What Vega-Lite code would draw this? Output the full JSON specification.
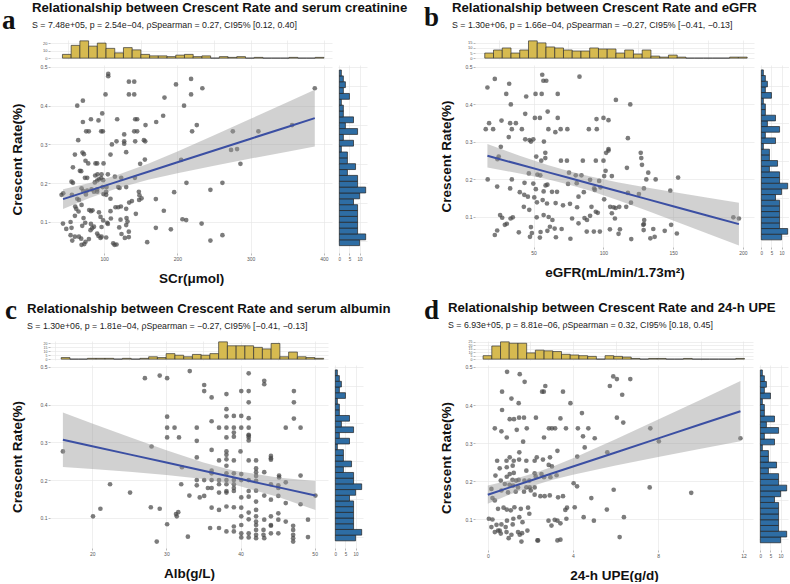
{
"$schema": "https://vega.github.io/schema/vega-lite/v6.json",
"background": "white",
"padding": {"left": 2, "top": 1, "right": 0, "bottom": 0},
"config": {
  "font": "Liberation Sans",
  "view": {"stroke": null},
  "axis": {"domain": false, "gridColor": "#E4E4E4", "gridWidth": 0.6, "tickColor": "#8a8a8a", "tickSize": 2, "tickWidth": 0.6, "labelFontSize": 5, "labelColor": "#555555", "labelPadding": 1, "labelFlush": false, "labelOverlap": false, "titleFont": "Liberation Sans", "titleFontWeight": "bold", "titleFontSize": 13.5, "titleColor": "#111111"}
},
"datasets": {
  "yhist": [
    {"y0":0.039,"y1":0.0541,"n":10},{"y0":0.0541,"y1":0.0692,"n":13},{"y0":0.0692,"y1":0.0843,"n":9},{"y0":0.0843,"y1":0.0994,"n":9},{"y0":0.0994,"y1":0.1145,"n":9},{"y0":0.1145,"y1":0.1296,"n":9},{"y0":0.1296,"y1":0.1447,"n":9},{"y0":0.1447,"y1":0.1598,"n":7},{"y0":0.1598,"y1":0.1749,"n":10},{"y0":0.1749,"y1":0.19,"n":13},{"y0":0.19,"y1":0.2051,"n":9},{"y0":0.2051,"y1":0.2202,"n":9},{"y0":0.2202,"y1":0.2353,"n":4},{"y0":0.2353,"y1":0.2504,"n":8},{"y0":0.2504,"y1":0.2655,"n":4},{"y0":0.2655,"y1":0.2806,"n":4},{"y0":0.2806,"y1":0.2957,"n":1},{"y0":0.2957,"y1":0.3108,"n":7},{"y0":0.3108,"y1":0.3259,"n":2},{"y0":0.3259,"y1":0.341,"n":9},{"y0":0.341,"y1":0.3561,"n":3},{"y0":0.3561,"y1":0.3712,"n":7},{"y0":0.3712,"y1":0.3863,"n":2},{"y0":0.3863,"y1":0.4014,"n":2},{"y0":0.4014,"y1":0.4165,"n":1},{"y0":0.4165,"y1":0.4316,"n":5},{"y0":0.4316,"y1":0.4467,"n":2},{"y0":0.4467,"y1":0.4618,"n":3},{"y0":0.4618,"y1":0.4769,"n":2},{"y0":0.4769,"y1":0.492,"n":1}
  ],
  "hist_a": [
    {"x0":43,"x1":54.9,"n":5},{"x0":54.9,"x1":66.8,"n":17},{"x0":66.8,"x1":78.7,"n":23},{"x0":78.7,"x1":90.6,"n":16},{"x0":90.6,"x1":102.5,"n":20},{"x0":102.5,"x1":114.4,"n":13},{"x0":114.4,"x1":126.3,"n":7},{"x0":126.3,"x1":138.2,"n":14},{"x0":138.2,"x1":150.1,"n":11},{"x0":150.1,"x1":162,"n":5},{"x0":162,"x1":173.9,"n":3},{"x0":173.9,"x1":185.8,"n":3},{"x0":185.8,"x1":197.7,"n":2},{"x0":197.7,"x1":209.6,"n":4},{"x0":209.6,"x1":221.5,"n":5},{"x0":221.5,"x1":233.4,"n":2},{"x0":233.4,"x1":245.3,"n":3},{"x0":245.3,"x1":257.2,"n":0},{"x0":257.2,"x1":269.1,"n":2},{"x0":269.1,"x1":281,"n":1},{"x0":281,"x1":292.9,"n":2},{"x0":292.9,"x1":304.8,"n":0},{"x0":304.8,"x1":316.7,"n":1},{"x0":316.7,"x1":328.6,"n":0},{"x0":328.6,"x1":340.5,"n":0},{"x0":340.5,"x1":352.4,"n":0},{"x0":352.4,"x1":364.3,"n":1},{"x0":364.3,"x1":376.2,"n":0},{"x0":376.2,"x1":388.1,"n":0},{"x0":388.1,"x1":400,"n":1}
  ],
  "hist_b": [
    {"x0":15,"x1":21.27,"n":5},{"x0":21.27,"x1":27.54,"n":8},{"x0":27.54,"x1":33.81,"n":10},{"x0":33.81,"x1":40.08,"n":5},{"x0":40.08,"x1":46.35,"n":8},{"x0":46.35,"x1":52.62,"n":17},{"x0":52.62,"x1":58.89,"n":15},{"x0":58.89,"x1":65.16,"n":11},{"x0":65.16,"x1":71.43,"n":10},{"x0":71.43,"x1":77.7,"n":8},{"x0":77.7,"x1":83.97,"n":7},{"x0":83.97,"x1":90.24,"n":7},{"x0":90.24,"x1":96.51,"n":10},{"x0":96.51,"x1":102.78,"n":9},{"x0":102.78,"x1":109.05,"n":9},{"x0":109.05,"x1":115.32,"n":5},{"x0":115.32,"x1":121.59,"n":8},{"x0":121.59,"x1":127.86,"n":4},{"x0":127.86,"x1":134.13,"n":8},{"x0":134.13,"x1":140.4,"n":2},{"x0":140.4,"x1":146.67,"n":1},{"x0":146.67,"x1":152.94,"n":3},{"x0":152.94,"x1":159.21,"n":1},{"x0":159.21,"x1":165.48,"n":0},{"x0":165.48,"x1":171.75,"n":0},{"x0":171.75,"x1":178.02,"n":0},{"x0":178.02,"x1":184.29,"n":0},{"x0":184.29,"x1":190.56,"n":0},{"x0":190.56,"x1":196.83,"n":1},{"x0":196.83,"x1":203.1,"n":1}
  ],
  "hist_c": [
    {"x0":15.81,"x1":16.99,"n":2},{"x0":16.99,"x1":18.17,"n":0},{"x0":18.17,"x1":19.35,"n":0},{"x0":19.35,"x1":20.53,"n":1},{"x0":20.53,"x1":21.71,"n":1},{"x0":21.71,"x1":22.89,"n":1},{"x0":22.89,"x1":24.07,"n":0},{"x0":24.07,"x1":25.25,"n":1},{"x0":25.25,"x1":26.43,"n":0},{"x0":26.43,"x1":27.61,"n":1},{"x0":27.61,"x1":28.79,"n":3},{"x0":28.79,"x1":29.97,"n":2},{"x0":29.97,"x1":31.15,"n":7},{"x0":31.15,"x1":32.33,"n":5},{"x0":32.33,"x1":33.51,"n":3},{"x0":33.51,"x1":34.69,"n":6},{"x0":34.69,"x1":35.87,"n":5},{"x0":35.87,"x1":37.05,"n":7},{"x0":37.05,"x1":38.23,"n":22},{"x0":38.23,"x1":39.41,"n":17},{"x0":39.41,"x1":40.59,"n":17},{"x0":40.59,"x1":41.77,"n":17},{"x0":41.77,"x1":42.95,"n":15},{"x0":42.95,"x1":44.13,"n":13},{"x0":44.13,"x1":45.31,"n":20},{"x0":45.31,"x1":46.49,"n":3},{"x0":46.49,"x1":47.67,"n":9},{"x0":47.67,"x1":48.85,"n":3},{"x0":48.85,"x1":50.03,"n":2},{"x0":50.03,"x1":51.21,"n":1}
  ],
  "hist_d": [
    {"x0":-0.22,"x1":0.189,"n":5},{"x0":0.189,"x1":0.598,"n":19},{"x0":0.598,"x1":1.007,"n":25},{"x0":1.007,"x1":1.416,"n":23},{"x0":1.416,"x1":1.825,"n":23},{"x0":1.825,"x1":2.234,"n":9},{"x0":2.234,"x1":2.643,"n":13},{"x0":2.643,"x1":3.052,"n":12},{"x0":3.052,"x1":3.461,"n":11},{"x0":3.461,"x1":3.87,"n":7},{"x0":3.87,"x1":4.279,"n":6},{"x0":4.279,"x1":4.688,"n":5},{"x0":4.688,"x1":5.097,"n":4},{"x0":5.097,"x1":5.506,"n":0},{"x0":5.506,"x1":5.915,"n":5},{"x0":5.915,"x1":6.324,"n":4},{"x0":6.324,"x1":6.733,"n":3},{"x0":6.733,"x1":7.142,"n":1},{"x0":7.142,"x1":7.551,"n":0},{"x0":7.551,"x1":7.96,"n":1},{"x0":7.96,"x1":8.369,"n":1},{"x0":8.369,"x1":8.778,"n":0},{"x0":8.778,"x1":9.187,"n":0},{"x0":9.187,"x1":9.596,"n":1},{"x0":9.596,"x1":10.005,"n":0},{"x0":10.005,"x1":10.414,"n":0},{"x0":10.414,"x1":10.823,"n":0},{"x0":10.823,"x1":11.232,"n":0},{"x0":11.232,"x1":11.641,"n":0},{"x0":11.641,"x1":12.05,"n":1}
  ],
  "fit_a": [
    {"x":43.8,"fit":0.159,"lo":0.1338,"hi":0.1842},{"x":80,"fit":0.181,"lo":0.1617,"hi":0.2003},{"x":115,"fit":0.2023,"lo":0.1853,"hi":0.2193},{"x":160,"fit":0.2297,"lo":0.209,"hi":0.2504},{"x":200,"fit":0.254,"lo":0.226,"hi":0.282},{"x":250,"fit":0.2844,"lo":0.2452,"hi":0.3236},{"x":300,"fit":0.3148,"lo":0.2635,"hi":0.3661},{"x":350,"fit":0.3452,"lo":0.2814,"hi":0.409},{"x":387.5,"fit":0.368,"lo":0.2947,"hi":0.4413}
  ],
  "fit_b": [
    {"x":16.9,"fit":0.263,"lo":0.2317,"hi":0.2943},{"x":40,"fit":0.2397,"lo":0.216,"hi":0.2634},{"x":60,"fit":0.2195,"lo":0.2005,"hi":0.2385},{"x":75,"fit":0.2044,"lo":0.1866,"hi":0.2222},{"x":90,"fit":0.1893,"lo":0.1703,"hi":0.2083},{"x":110,"fit":0.1691,"lo":0.1454,"hi":0.1928},{"x":130,"fit":0.1489,"lo":0.1186,"hi":0.1792},{"x":150,"fit":0.1287,"lo":0.0909,"hi":0.1665},{"x":175,"fit":0.1035,"lo":0.0556,"hi":0.1514},{"x":197.2,"fit":0.081,"lo":0.0238,"hi":0.1382}
  ],
  "fit_c": [
    {"x":16.04,"fit":0.307,"lo":0.235,"hi":0.379},{"x":20,"fit":0.2898,"lo":0.2294,"hi":0.3502},{"x":25,"fit":0.2681,"lo":0.2219,"hi":0.3143},{"x":30,"fit":0.2464,"lo":0.2136,"hi":0.2792},{"x":35,"fit":0.2247,"lo":0.2028,"hi":0.2466},{"x":39,"fit":0.2073,"lo":0.1891,"hi":0.2255},{"x":45,"fit":0.1813,"lo":0.1556,"hi":0.207},{"x":50.1,"fit":0.1592,"lo":0.1209,"hi":0.1975}
  ],
  "fit_d": [
    {"x":0,"fit":0.165,"lo":0.1412,"hi":0.1888},{"x":1,"fit":0.1835,"lo":0.1648,"hi":0.2022},{"x":2.2,"fit":0.2056,"lo":0.1896,"hi":0.2216},{"x":3,"fit":0.2204,"lo":0.2032,"hi":0.2376},{"x":4,"fit":0.2388,"lo":0.2173,"hi":0.2603},{"x":6,"fit":0.2758,"lo":0.2414,"hi":0.3102},{"x":8,"fit":0.3127,"lo":0.2636,"hi":0.3618},{"x":10,"fit":0.3496,"lo":0.2852,"hi":0.414},{"x":11.86,"fit":0.3839,"lo":0.305,"hi":0.4628}
  ],
  "pts_a": [
    {"x":105.5,"y":0.482},{"x":105.5,"y":0.476},{"x":133.7,"y":0.462},{"x":141,"y":0.462},{"x":198,"y":0.455},{"x":218.6,"y":0.469},{"x":234,"y":0.445},{"x":387.5,"y":0.445},
    {"x":70.9,"y":0.413},{"x":63.2,"y":0.4},{"x":101.8,"y":0.429},{"x":133.7,"y":0.429},{"x":141,"y":0.429},{"x":182.3,"y":0.421},{"x":218.6,"y":0.429},{"x":209,"y":0.4},
    {"x":97.3,"y":0.38},{"x":180.5,"y":0.374},{"x":81.9,"y":0.365},{"x":70.9,"y":0.358},{"x":92.2,"y":0.362},{"x":117.7,"y":0.365},{"x":142.3,"y":0.365},{"x":145,"y":0.365},{"x":171,"y":0.358},{"x":156.4,"y":0.35},{"x":226.4,"y":0.35},
    {"x":75.4,"y":0.334},{"x":79,"y":0.334},{"x":95.9,"y":0.334},{"x":98.2,"y":0.334},{"x":141,"y":0.334},{"x":145,"y":0.334},{"x":220,"y":0.334},{"x":275.6,"y":0.334},{"x":310.5,"y":0.334},{"x":356.5,"y":0.35},
    {"x":127.3,"y":0.326},{"x":64.5,"y":0.311},{"x":116.8,"y":0.308},{"x":110.5,"y":0.3},{"x":127.3,"y":0.308},{"x":127.3,"y":0.302},{"x":142.3,"y":0.308},{"x":154.2,"y":0.311},{"x":156,"y":0.308},{"x":281.4,"y":0.288},
    {"x":60,"y":0.274},{"x":70.4,"y":0.279},{"x":72.3,"y":0.275},{"x":108.6,"y":0.274},{"x":130,"y":0.28},{"x":74.5,"y":0.258},{"x":78.2,"y":0.251},{"x":88.1,"y":0.251},{"x":90.4,"y":0.251},{"x":99.1,"y":0.251},{"x":57.3,"y":0.241},{"x":66.8,"y":0.232},{"x":68.6,"y":0.231},{"x":155.5,"y":0.261},{"x":149.1,"y":0.25},{"x":205,"y":0.26},{"x":273.2,"y":0.286},{"x":286,"y":0.25},
    {"x":73.7,"y":0.214},{"x":76.8,"y":0.214},{"x":87.7,"y":0.22},{"x":90.9,"y":0.223},{"x":96.4,"y":0.223},{"x":105,"y":0.223},{"x":55.4,"y":0.204},{"x":57.3,"y":0.201},{"x":87.2,"y":0.202},{"x":90.4,"y":0.207},{"x":92.8,"y":0.21},{"x":95.9,"y":0.213},{"x":98.6,"y":0.208},{"x":114.6,"y":0.217},{"x":123.2,"y":0.214},{"x":141.9,"y":0.214},{"x":212.3,"y":0.201},{"x":261.4,"y":0.201},
    {"x":41.8,"y":0.17},{"x":44.1,"y":0.174},{"x":55.9,"y":0.17},{"x":69.1,"y":0.187},{"x":71.3,"y":0.18},{"x":75,"y":0.171},{"x":76.8,"y":0.181},{"x":82.7,"y":0.184},{"x":86,"y":0.178},{"x":90.4,"y":0.184},{"x":90.4,"y":0.178},{"x":97.8,"y":0.19},{"x":103.2,"y":0.19},{"x":102.7,"y":0.178},{"x":99,"y":0.172},{"x":102.7,"y":0.17},{"x":119.1,"y":0.19},{"x":120.9,"y":0.188},{"x":130,"y":0.19},{"x":147.3,"y":0.178},{"x":148.1,"y":0.169},{"x":151,"y":0.161},{"x":147.7,"y":0.157},{"x":137.8,"y":0.154},{"x":134.1,"y":0.15},{"x":108.6,"y":0.16},{"x":63.2,"y":0.16},{"x":65.5,"y":0.157},{"x":170.5,"y":0.159},{"x":195.5,"y":0.177},{"x":245,"y":0.183},
    {"x":60.4,"y":0.14},{"x":61.8,"y":0.134},{"x":60,"y":0.116},{"x":69.1,"y":0.144},{"x":65,"y":0.127},{"x":79.5,"y":0.131},{"x":81.9,"y":0.128},{"x":84,"y":0.13},{"x":92.8,"y":0.125},{"x":95,"y":0.113},{"x":98.6,"y":0.104},{"x":108.6,"y":0.128},{"x":115.4,"y":0.138},{"x":119.1,"y":0.138},{"x":122.8,"y":0.14},{"x":130,"y":0.134},{"x":143.2,"y":0.121},{"x":181.4,"y":0.129},{"x":211.9,"y":0.105},{"x":206.8,"y":0.107},{"x":233,"y":0.096},
    {"x":43.7,"y":0.096},{"x":48.2,"y":0.082},{"x":54.1,"y":0.1},{"x":55.4,"y":0.085},{"x":71.8,"y":0.11},{"x":74.1,"y":0.098},{"x":70,"y":0.09},{"x":81.9,"y":0.095},{"x":83.6,"y":0.084},{"x":86,"y":0.088},{"x":96.4,"y":0.087},{"x":104.1,"y":0.098},{"x":105,"y":0.095},{"x":109.1,"y":0.109},{"x":122.3,"y":0.106},{"x":130.5,"y":0.11},{"x":131.8,"y":0.101},{"x":130,"y":0.092},{"x":120.5,"y":0.086},{"x":133.6,"y":0.075},{"x":170.5,"y":0.085},{"x":191,"y":0.081},
    {"x":54.1,"y":0.066},{"x":56.4,"y":0.052},{"x":60,"y":0.062},{"x":65.5,"y":0.062},{"x":68.6,"y":0.057},{"x":69.1,"y":0.041},{"x":72.8,"y":0.043},{"x":74.5,"y":0.049},{"x":79.1,"y":0.056},{"x":81.3,"y":0.079},{"x":90.4,"y":0.07},{"x":92.2,"y":0.064},{"x":95,"y":0.059},{"x":102.7,"y":0.06},{"x":96.4,"y":0.062},{"x":112.3,"y":0.045},{"x":114.1,"y":0.041},{"x":116.8,"y":0.042},{"x":123.6,"y":0.069},{"x":128.2,"y":0.059},{"x":133.6,"y":0.061},{"x":158.7,"y":0.048},{"x":245,"y":0.052},{"x":261.4,"y":0.066}
  ],
  "pts_b": [
    {"x":56.2,"y":0.479},{"x":57,"y":0.463},{"x":59.1,"y":0.463},{"x":22.2,"y":0.468},{"x":32.5,"y":0.455},{"x":30.4,"y":0.428},{"x":16.9,"y":0.445},{"x":82.9,"y":0.474},{"x":51.4,"y":0.428},{"x":55.8,"y":0.428},{"x":67.3,"y":0.428},{"x":44.7,"y":0.421},{"x":109,"y":0.412},{"x":33.7,"y":0.4},{"x":119.3,"y":0.4},
    {"x":60.1,"y":0.381},{"x":44,"y":0.375},{"x":50.9,"y":0.364},{"x":54.5,"y":0.364},{"x":67.3,"y":0.364},{"x":27,"y":0.357},{"x":18.1,"y":0.35},{"x":33.2,"y":0.35},{"x":37.3,"y":0.35},{"x":95.1,"y":0.361},{"x":100.1,"y":0.364},{"x":103.7,"y":0.358},
    {"x":15.7,"y":0.334},{"x":21,"y":0.334},{"x":34.4,"y":0.334},{"x":41.6,"y":0.334},{"x":60.6,"y":0.334},{"x":65.6,"y":0.326},{"x":69.4,"y":0.334},{"x":74.2,"y":0.334},{"x":89.6,"y":0.334},{"x":95.3,"y":0.334},
    {"x":32.2,"y":0.313},{"x":44,"y":0.307},{"x":47.1,"y":0.305},{"x":49.8,"y":0.307},{"x":48.1,"y":0.301},{"x":57.4,"y":0.301},{"x":117.6,"y":0.31},{"x":26.5,"y":0.287},{"x":103.7,"y":0.281},
    {"x":25,"y":0.261},{"x":24.1,"y":0.254},{"x":51.9,"y":0.261},{"x":55.5,"y":0.25},{"x":58.4,"y":0.271},{"x":58.4,"y":0.257},{"x":69.6,"y":0.25},{"x":73.9,"y":0.25},{"x":85.3,"y":0.25},{"x":94.6,"y":0.25},{"x":100.1,"y":0.25},{"x":102,"y":0.271},{"x":103.7,"y":0.277},{"x":126.8,"y":0.271},{"x":127.2,"y":0.257},{"x":127.7,"y":0.239},{"x":116.9,"y":0.231},
    {"x":46.6,"y":0.216},{"x":52.7,"y":0.213},{"x":54.8,"y":0.211},{"x":59.9,"y":0.186},{"x":58.6,"y":0.184},{"x":75.4,"y":0.218},{"x":80.2,"y":0.211},{"x":84.3,"y":0.211},{"x":101.6,"y":0.223},{"x":100.6,"y":0.209},{"x":106.1,"y":0.209},{"x":132.2,"y":0.218},{"x":130.8,"y":0.2},{"x":137.5,"y":0.2},{"x":153.6,"y":0.205},{"x":17.1,"y":0.2},{"x":34.4,"y":0.2},
    {"x":43.5,"y":0.191},{"x":49.8,"y":0.189},{"x":74.7,"y":0.188},{"x":80.9,"y":0.19},{"x":90.5,"y":0.199},{"x":93.9,"y":0.172},{"x":97,"y":0.196},{"x":98,"y":0.179},{"x":129.1,"y":0.176},{"x":148,"y":0.17},{"x":23.9,"y":0.181},{"x":33.2,"y":0.176},{"x":40.1,"y":0.166},
    {"x":43.3,"y":0.159},{"x":45.9,"y":0.154},{"x":50.5,"y":0.152},{"x":51.6,"y":0.174},{"x":57.2,"y":0.168},{"x":56.5,"y":0.145},{"x":63.2,"y":0.167},{"x":66.8,"y":0.167},{"x":82.2,"y":0.154},{"x":86,"y":0.166},{"x":93.4,"y":0.176},{"x":100.6,"y":0.147},{"x":117.6,"y":0.164},{"x":125.5,"y":0.161},
    {"x":43,"y":0.127},{"x":46.9,"y":0.119},{"x":52.4,"y":0.139},{"x":59.6,"y":0.136},{"x":65.8,"y":0.137},{"x":71.1,"y":0.131},{"x":76.1,"y":0.135},{"x":81.2,"y":0.126},{"x":91.5,"y":0.127},{"x":94.6,"y":0.114},{"x":96,"y":0.111},{"x":104.9,"y":0.127},{"x":107.3,"y":0.126},{"x":108.8,"y":0.124},{"x":111.4,"y":0.127},{"x":116.4,"y":0.127},{"x":119.8,"y":0.138},{"x":106.1,"y":0.11},
    {"x":26,"y":0.105},{"x":27.5,"y":0.098},{"x":35.1,"y":0.099},{"x":33.5,"y":0.096},{"x":52.2,"y":0.099},{"x":57.2,"y":0.105},{"x":60.8,"y":0.1},{"x":63.5,"y":0.092},{"x":77.6,"y":0.096},{"x":86.5,"y":0.097},{"x":88.3,"y":0.092},{"x":90.5,"y":0.103},{"x":108.3,"y":0.096},{"x":129.3,"y":0.092},{"x":128.6,"y":0.079},{"x":193.2,"y":0.099},{"x":197.2,"y":0.096},
    {"x":23.9,"y":0.064},{"x":29.4,"y":0.079},{"x":30.8,"y":0.082},{"x":39.4,"y":0.059},{"x":48.1,"y":0.073},{"x":48.8,"y":0.057},{"x":55,"y":0.06},{"x":54.5,"y":0.045},{"x":59.9,"y":0.063},{"x":61.7,"y":0.074},{"x":65.1,"y":0.069},{"x":70.1,"y":0.068},{"x":66,"y":0.046},{"x":76.4,"y":0.042},{"x":82.2,"y":0.083},{"x":88.1,"y":0.061},{"x":93.2,"y":0.061},{"x":97.5,"y":0.061},{"x":104.7,"y":0.067},{"x":111.9,"y":0.067},{"x":110.9,"y":0.055},{"x":120,"y":0.041},{"x":128.9,"y":0.065},{"x":129.1,"y":0.081},{"x":135.8,"y":0.068},{"x":133.7,"y":0.043},{"x":136.8,"y":0.047},{"x":144,"y":0.063},{"x":148.6,"y":0.079},{"x":152.7,"y":0.056},{"x":22.2,"y":0.052},{"x":47.4,"y":0.047}
  ],
  "pts_c": [
    {"x":33.15,"y":0.489},{"x":29.1,"y":0.477},{"x":30.1,"y":0.47},{"x":27.1,"y":0.47},{"x":41.1,"y":0.483},{"x":43.2,"y":0.463},{"x":43.2,"y":0.454},{"x":35.1,"y":0.452},{"x":35.1,"y":0.436},{"x":36.1,"y":0.419},{"x":38.1,"y":0.428},{"x":40.1,"y":0.436},{"x":41.1,"y":0.436},{"x":47.2,"y":0.436},{"x":41.1,"y":0.406},{"x":47.2,"y":0.406},
    {"x":30.1,"y":0.368},{"x":38.1,"y":0.388},{"x":38.1,"y":0.369},{"x":39.1,"y":0.37},{"x":40.1,"y":0.37},{"x":41.1,"y":0.364},{"x":36.1,"y":0.356},{"x":47.2,"y":0.363},
    {"x":30.1,"y":0.339},{"x":31.1,"y":0.339},{"x":34.1,"y":0.339},{"x":37.1,"y":0.339},{"x":38.1,"y":0.339},{"x":39.1,"y":0.339},{"x":40.1,"y":0.339},{"x":41.1,"y":0.339},{"x":46.1,"y":0.339},{"x":48.1,"y":0.339},{"x":39.1,"y":0.326},{"x":41.1,"y":0.318},{"x":41.1,"y":0.313},{"x":30.1,"y":0.313},{"x":31.7,"y":0.313},
    {"x":34.1,"y":0.304},{"x":38.1,"y":0.313},{"x":39.1,"y":0.315},{"x":41.1,"y":0.32},{"x":41.1,"y":0.305},
    {"x":16.04,"y":0.276},{"x":28,"y":0.289},{"x":36.1,"y":0.28},{"x":38.1,"y":0.276},{"x":38.1,"y":0.267},{"x":38.1,"y":0.255},{"x":40,"y":0.276},{"x":34.1,"y":0.26},{"x":37.1,"y":0.252},{"x":39.1,"y":0.252},{"x":41.1,"y":0.252},{"x":42.1,"y":0.252},{"x":44.1,"y":0.264},{"x":44.1,"y":0.258},{"x":44.1,"y":0.254},
    {"x":32.1,"y":0.234},{"x":36.1,"y":0.225},{"x":36.1,"y":0.218},{"x":38.1,"y":0.238},{"x":38.1,"y":0.218},{"x":39.1,"y":0.218},{"x":40.1,"y":0.216},{"x":42.1,"y":0.231},{"x":42.1,"y":0.221},{"x":42.1,"y":0.211},{"x":43.2,"y":0.221},{"x":45.2,"y":0.212},{"x":45.2,"y":0.207},{"x":48.1,"y":0.212},
    {"x":34.1,"y":0.2},{"x":35.1,"y":0.2},{"x":36.1,"y":0.2},{"x":37.1,"y":0.2},{"x":38.1,"y":0.2},{"x":39.1,"y":0.2},{"x":40.1,"y":0.2},{"x":41.1,"y":0.2},
    {"x":22.4,"y":0.189},{"x":32,"y":0.189},{"x":34.1,"y":0.186},{"x":35.6,"y":0.179},{"x":36.1,"y":0.179},{"x":37.1,"y":0.189},{"x":38.1,"y":0.189},{"x":39.1,"y":0.189},{"x":39.1,"y":0.179},{"x":42.1,"y":0.198},{"x":42.1,"y":0.172},{"x":44.1,"y":0.189},{"x":45.1,"y":0.186},{"x":45.1,"y":0.179},{"x":45.1,"y":0.158},{"x":46.1,"y":0.194},
    {"x":25.1,"y":0.167},{"x":33.1,"y":0.159},{"x":34.5,"y":0.154},{"x":35.1,"y":0.158},{"x":37.1,"y":0.167},{"x":38.1,"y":0.167},{"x":39.1,"y":0.171},{"x":38.1,"y":0.171},{"x":40.1,"y":0.154},{"x":41.1,"y":0.171},{"x":41.1,"y":0.156},{"x":43.2,"y":0.159},{"x":44.1,"y":0.148},{"x":46.1,"y":0.139},{"x":42.1,"y":0.143},{"x":50.1,"y":0.159},{"x":48.1,"y":0.136},
    {"x":36.1,"y":0.127},{"x":37.1,"y":0.121},{"x":38.1,"y":0.13},{"x":39.1,"y":0.128},{"x":40.1,"y":0.127},{"x":21.1,"y":0.124},{"x":27.9,"y":0.128},{"x":29.1,"y":0.124},{"x":31.3,"y":0.11},{"x":31.6,"y":0.115},{"x":31.4,"y":0.104},{"x":20.1,"y":0.104},
    {"x":41.1,"y":0.114},{"x":41.1,"y":0.096},{"x":42.1,"y":0.121},{"x":42.1,"y":0.104},{"x":42.1,"y":0.09},{"x":42.1,"y":0.081},{"x":42.1,"y":0.068},{"x":42.1,"y":0.055},{"x":43.2,"y":0.095},{"x":44.1,"y":0.104},{"x":44.1,"y":0.079},{"x":45.1,"y":0.112},{"x":45.1,"y":0.095},{"x":46.1,"y":0.09},
    {"x":40.1,"y":0.104},{"x":40.1,"y":0.081},{"x":39.1,"y":0.077},{"x":39.1,"y":0.064},{"x":38.1,"y":0.064},{"x":37.1,"y":0.073},
    {"x":40.1,"y":0.059},{"x":40.1,"y":0.048},{"x":41.1,"y":0.059},{"x":41.1,"y":0.048},{"x":42.1,"y":0.046},{"x":43.1,"y":0.068},{"x":43.1,"y":0.055},{"x":43.2,"y":0.046},{"x":44.1,"y":0.081},{"x":44.1,"y":0.059},{"x":45.1,"y":0.059},{"x":47.1,"y":0.079},{"x":47.1,"y":0.068},{"x":47.1,"y":0.055},{"x":47.1,"y":0.046},{"x":47.1,"y":0.037},{"x":49.1,"y":0.095},{"x":49.1,"y":0.049},
    {"x":30.1,"y":0.083},{"x":32.9,"y":0.05},{"x":28.7,"y":0.037},{"x":35.9,"y":0.073}
  ],
  "pts_d": [
    {"x":0.905,"y":0.487},{"x":1.5,"y":0.481},{"x":1.73,"y":0.461},{"x":0.67,"y":0.435},{"x":1.11,"y":0.417},{"x":1.45,"y":0.405},{"x":2.7,"y":0.45},{"x":2.63,"y":0.435},{"x":2.55,"y":0.435},{"x":3.53,"y":0.435},{"x":3.88,"y":0.405},{"x":5.89,"y":0.475},{"x":6.06,"y":0.468},{"x":5.73,"y":0.45},{"x":6.69,"y":0.468},{"x":6.31,"y":0.427},
    {"x":0.67,"y":0.387},{"x":1.03,"y":0.363},{"x":1.23,"y":0.363},{"x":1.47,"y":0.367},{"x":1.7,"y":0.367},{"x":2.26,"y":0.367},{"x":3.41,"y":0.365},{"x":4.42,"y":0.379},{"x":6.06,"y":0.367},{"x":6.36,"y":0.354},
    {"x":0.33,"y":0.339},{"x":0.64,"y":0.331},{"x":0.89,"y":0.315},{"x":1.36,"y":0.335},{"x":1.83,"y":0.339},{"x":2.64,"y":0.315},{"x":2.87,"y":0.339},{"x":3.01,"y":0.339},{"x":3.16,"y":0.339},{"x":3.67,"y":0.339},{"x":4.23,"y":0.339},{"x":4.72,"y":0.339},{"x":4.47,"y":0.318},{"x":5.02,"y":0.313},{"x":7.63,"y":0.339},{"x":11.86,"y":0.313},
    {"x":1.66,"y":0.304},{"x":8.03,"y":0.305},{"x":1.48,"y":0.276},{"x":3.27,"y":0.28},{"x":4.55,"y":0.289},{"x":5.61,"y":0.276},
    {"x":0.44,"y":0.254},{"x":0.88,"y":0.254},{"x":1.03,"y":0.263},{"x":1.22,"y":0.254},{"x":1.47,"y":0.257},{"x":1.81,"y":0.254},{"x":2.3,"y":0.263},{"x":2.59,"y":0.257},{"x":2.92,"y":0.263},{"x":2.2,"y":0.254},{"x":4.2,"y":0.265},
    {"x":0.56,"y":0.234},{"x":0.89,"y":0.237},{"x":1.17,"y":0.241},{"x":1.22,"y":0.222},{"x":2.86,"y":0.243},{"x":3.01,"y":0.239},{"x":1.81,"y":0.228},{"x":2.2,"y":0.221},
    {"x":0.36,"y":0.215},{"x":0.61,"y":0.202},{"x":0.89,"y":0.212},{"x":1.03,"y":0.219},{"x":1.16,"y":0.204},{"x":1.33,"y":0.202},{"x":1.45,"y":0.204},{"x":1.72,"y":0.202},{"x":1.95,"y":0.202},{"x":2.25,"y":0.213},{"x":2.52,"y":0.219},{"x":2.64,"y":0.211},{"x":2.94,"y":0.211},{"x":3.23,"y":0.216},
    {"x":0.8,"y":0.193},{"x":1.02,"y":0.191},{"x":1.19,"y":0.189},{"x":1.42,"y":0.184},{"x":1.81,"y":0.184},{"x":1.97,"y":0.184},{"x":2.2,"y":0.184},{"x":4.03,"y":0.195},{"x":4.19,"y":0.187},{"x":7.6,"y":0.184},{"x":5.91,"y":0.178},{"x":9.55,"y":0.17},
    {"x":0.17,"y":0.18},{"x":0.64,"y":0.176},{"x":0.95,"y":0.171},{"x":1.31,"y":0.173},{"x":1.7,"y":0.173},{"x":2.02,"y":0.176},{"x":2.2,"y":0.165},{"x":2.47,"y":0.161},{"x":2.67,"y":0.161},{"x":2.91,"y":0.163},{"x":3.3,"y":0.158},{"x":3.53,"y":0.161},{"x":4.86,"y":0.156},{"x":0.22,"y":0.156},{"x":0.33,"y":0.15},
    {"x":0.48,"y":0.128},{"x":0.74,"y":0.131},{"x":0.89,"y":0.126},{"x":1.08,"y":0.124},{"x":1.25,"y":0.132},{"x":1.55,"y":0.128},{"x":1.89,"y":0.131},{"x":3.64,"y":0.125},{"x":3.72,"y":0.131},{"x":4.08,"y":0.132},{"x":5.59,"y":0.126},
    {"x":0.05,"y":0.102},{"x":0.22,"y":0.1},{"x":0.41,"y":0.086},{"x":0.64,"y":0.087},{"x":0.9,"y":0.097},{"x":1.2,"y":0.102},{"x":1.48,"y":0.106},{"x":1.17,"y":0.087},{"x":0.48,"y":0.071},{"x":1.95,"y":0.115},{"x":1.63,"y":0.093},{"x":2.85,"y":0.097},{"x":2.99,"y":0.084},{"x":3.14,"y":0.099},{"x":3.27,"y":0.097},{"x":3.41,"y":0.09},{"x":3.69,"y":0.102},{"x":4.5,"y":0.106},{"x":4.98,"y":0.097},{"x":6.39,"y":0.106},
    {"x":0.17,"y":0.08},{"x":0.33,"y":0.067},{"x":0.56,"y":0.071},{"x":0.61,"y":0.063},{"x":0.84,"y":0.08},{"x":0.88,"y":0.067},{"x":0.98,"y":0.051},{"x":1.11,"y":0.06},{"x":1.42,"y":0.067},{"x":1.5,"y":0.06},{"x":1.61,"y":0.064},{"x":1.86,"y":0.071},{"x":1.58,"y":0.042},{"x":2.33,"y":0.045},{"x":2.36,"y":0.045},{"x":3.27,"y":0.045},{"x":3.41,"y":0.047},{"x":6.19,"y":0.054}
  ]
},
"columns": 2,
"spacing": {"row": 11, "column": 15},
"concat": [
  {
    "title": {"text": "a", "orient": "left", "anchor": "end", "angle": 0, "align": "right", "baseline": "alphabetic", "dy": 28, "offset": -19, "font": "Liberation Serif", "fontSize": 27, "fontWeight": "bold", "color": "#111111"},
    "spacing": 3,
    "vconcat": [
      {
        "title": {"text": "Relationalship between Crescent Rate and serum creatinine", "subtitle": "S = 7.48e+05, p = 2.54e−04, ρSpearman = 0.27, CI95% [0.12, 0.40]", "anchor": "start", "frame": "group", "dx": -18, "offset": 9, "font": "Liberation Sans", "fontSize": 13.2, "fontWeight": "bold", "color": "#111111", "subtitleFont": "Liberation Sans", "subtitleFontSize": 8.8, "subtitleColor": "#222222", "subtitlePadding": 6},
        "width": 282, "height": 19,
        "data": {"name": "hist_a"},
        "mark": {"type": "rect", "fill": "#D6BA50", "stroke": "#333333", "strokeWidth": 0.7},
        "encoding": {
          "x": {"field": "x0", "type": "quantitative", "scale": {"domain": [26, 411], "nice": false, "zero": false}, "axis": {"values": [50,100,150,200,250,300,350,400], "labels": false, "ticks": false, "title": null}},
          "x2": {"field": "x1"},
          "y": {"field": "n", "type": "quantitative", "scale": {"domain": [-1.15, 24.15], "nice": false}, "axis": {"values": [0,10,20], "title": "C", "titleOpacity": 0, "titlePadding": 14, "minExtent": 12, "maxExtent": 12, "labelFontSize": 4}},
          "y2": {"datum": 0}
        }
      },
      {
        "spacing": 6,
        "hconcat": [
          {
            "width": 282, "height": 188,
            "resolve": {"axis": {"x": "independent", "y": "independent"}},
            "layer": [
              {"data": {"name": "pts_a"}, "mark": {"type": "circle", "size": 22, "color": "#4a4a4a", "opacity": 0.72},
               "encoding": {
                 "x": {"field": "x", "type": "quantitative", "scale": {"domain": [26, 411], "nice": false, "zero": false}, "axis": {"orient": "bottom", "values": [100,200,300,400], "format": "d", "title": "SCr(μmol)", "titlePadding": 10}},
                 "y": {"field": "y", "type": "quantitative", "scale": {"domain": [0.02, 0.505], "nice": false, "zero": false}, "axis": {"orient": "left", "values": [0.1,0.2,0.3,0.4,0.5], "format": ".1f", "title": "Crescent Rate(%)", "titlePadding": 14, "minExtent": 12, "maxExtent": 12}}
               }},
              {"data": {"name": "fit_a"}, "mark": {"type": "area", "color": "#999999", "opacity": 0.45},
               "encoding": {
                 "x": {"field": "x", "type": "quantitative", "axis": {"orient": "bottom", "values": [50,150,250,350], "labels": false, "ticks": false, "title": null, "gridColor": "#EFEFEF", "minExtent": 0, "maxExtent": 0}},
                 "y": {"field": "lo", "type": "quantitative", "axis": {"orient": "left", "values": [0.05,0.15,0.25,0.35,0.45], "labels": false, "ticks": false, "title": null, "gridColor": "#EFEFEF", "minExtent": 0, "maxExtent": 0}},
                 "y2": {"field": "hi"}}},
              {"data": {"name": "fit_a"}, "mark": {"type": "line", "color": "#3B4FA3", "strokeWidth": 2},
               "encoding": {"x": {"field": "x", "type": "quantitative", "axis": null}, "y": {"field": "fit", "type": "quantitative", "axis": null}}}
            ]
          },
          {
            "width": 29, "height": 188,
            "data": {"name": "yhist"},
            "mark": {"type": "rect", "fill": "#2E6DA4", "stroke": "#222222", "strokeWidth": 0.7},
            "encoding": {
              "y": {"field": "y0", "type": "quantitative", "scale": {"domain": [0.02, 0.505], "nice": false, "zero": false}, "axis": {"values": [0.05,0.1,0.15,0.2,0.25,0.3,0.35,0.4,0.45,0.5], "labels": false, "ticks": false, "title": null}},
              "y2": {"field": "y1"},
              "x": {"field": "n", "type": "quantitative", "scale": {"domain": [-0.65, 13.65], "nice": false}, "axis": {"values": [0,5,10], "title": null, "labelFontSize": 4.5}},
              "x2": {"datum": 0}
            }
          }
        ]
      }
    ]
  },
  {
    "title": {"text": "b", "orient": "left", "anchor": "end", "angle": 0, "align": "right", "baseline": "alphabetic", "dy": 25, "offset": -15, "font": "Liberation Serif", "fontSize": 27, "fontWeight": "bold", "color": "#111111"},
    "spacing": 3,
    "vconcat": [
      {
        "title": {"text": "Relationalship between Crescent Rate and eGFR", "subtitle": "S = 1.30e+06, p = 1.66e−04, ρSpearman = −0.27, CI95% [−0.41, −0.13]", "anchor": "start", "frame": "group", "dx": -23, "offset": 9, "font": "Liberation Sans", "fontSize": 13.2, "fontWeight": "bold", "color": "#111111", "subtitleFont": "Liberation Sans", "subtitleFontSize": 8.8, "subtitleColor": "#222222", "subtitlePadding": 6},
        "width": 279, "height": 19,
        "data": {"name": "hist_b"},
        "mark": {"type": "rect", "fill": "#D6BA50", "stroke": "#333333", "strokeWidth": 0.7},
        "encoding": {
          "x": {"field": "x0", "type": "quantitative", "scale": {"domain": [8, 208], "nice": false, "zero": false}, "axis": {"values": [25,50,75,100,125,150,175,200], "labels": false, "ticks": false, "title": null}},
          "x2": {"field": "x1"},
          "y": {"field": "n", "type": "quantitative", "scale": {"domain": [-0.85, 17.85], "nice": false}, "axis": {"values": [0,5,10,15], "title": "C", "titleOpacity": 0, "titlePadding": 10, "minExtent": 12, "maxExtent": 12, "labelFontSize": 4}},
          "y2": {"datum": 0}
        }
      },
      {
        "spacing": 6,
        "hconcat": [
          {
            "width": 279, "height": 182,
            "resolve": {"axis": {"x": "independent", "y": "independent"}},
            "layer": [
              {"data": {"name": "pts_b"}, "mark": {"type": "circle", "size": 22, "color": "#4a4a4a", "opacity": 0.72},
               "encoding": {
                 "x": {"field": "x", "type": "quantitative", "scale": {"domain": [8, 208], "nice": false, "zero": false}, "axis": {"orient": "bottom", "values": [50,100,150,200], "format": "d", "title": "eGFR(mL/min/1.73m²)", "titlePadding": 10}},
                 "y": {"field": "y", "type": "quantitative", "scale": {"domain": [0.02, 0.505], "nice": false, "zero": false}, "axis": {"orient": "left", "values": [0.1,0.2,0.3,0.4,0.5], "format": ".1f", "title": "Crescent Rate(%)", "titlePadding": 10, "minExtent": 12, "maxExtent": 12}}
               }},
              {"data": {"name": "fit_b"}, "mark": {"type": "area", "color": "#999999", "opacity": 0.45},
               "encoding": {
                 "x": {"field": "x", "type": "quantitative", "axis": {"orient": "bottom", "values": [25,75,125,175], "labels": false, "ticks": false, "title": null, "gridColor": "#EFEFEF", "minExtent": 0, "maxExtent": 0}},
                 "y": {"field": "lo", "type": "quantitative", "axis": {"orient": "left", "values": [0.05,0.15,0.25,0.35,0.45], "labels": false, "ticks": false, "title": null, "gridColor": "#EFEFEF", "minExtent": 0, "maxExtent": 0}},
                 "y2": {"field": "hi"}}},
              {"data": {"name": "fit_b"}, "mark": {"type": "line", "color": "#3B4FA3", "strokeWidth": 2},
               "encoding": {"x": {"field": "x", "type": "quantitative", "axis": null}, "y": {"field": "fit", "type": "quantitative", "axis": null}}}
            ]
          },
          {
            "width": 29, "height": 182,
            "data": {"name": "yhist"},
            "mark": {"type": "rect", "fill": "#2E6DA4", "stroke": "#222222", "strokeWidth": 0.7},
            "encoding": {
              "y": {"field": "y0", "type": "quantitative", "scale": {"domain": [0.02, 0.505], "nice": false, "zero": false}, "axis": {"values": [0.05,0.1,0.15,0.2,0.25,0.3,0.35,0.4,0.45,0.5], "labels": false, "ticks": false, "title": null}},
              "y2": {"field": "y1"},
              "x": {"field": "n", "type": "quantitative", "scale": {"domain": [-0.65, 13.65], "nice": false}, "axis": {"values": [0,5,10], "title": null, "labelFontSize": 4.5}},
              "x2": {"datum": 0}
            }
          }
        ]
      }
    ]
  },
  {
    "title": {"text": "c", "orient": "left", "anchor": "end", "angle": 0, "align": "right", "baseline": "alphabetic", "dy": 17, "offset": -19, "font": "Liberation Serif", "fontSize": 27, "fontWeight": "bold", "color": "#111111"},
    "spacing": 3,
    "vconcat": [
      {
        "title": {"text": "Relationalship between Crescent Rate and serum albumin", "subtitle": "S = 1.30e+06, p = 1.81e−04, ρSpearman = −0.27, CI95% [−0.41, −0.13]", "anchor": "start", "frame": "group", "dx": -23, "offset": 9, "font": "Liberation Sans", "fontSize": 13.2, "fontWeight": "bold", "color": "#111111", "subtitleFont": "Liberation Sans", "subtitleFontSize": 8.8, "subtitleColor": "#222222", "subtitlePadding": 6},
        "width": 278, "height": 19,
        "data": {"name": "hist_c"},
        "mark": {"type": "rect", "fill": "#D6BA50", "stroke": "#333333", "strokeWidth": 0.7},
        "encoding": {
          "x": {"field": "x0", "type": "quantitative", "scale": {"domain": [14.3, 51.8], "nice": false, "zero": false}, "axis": {"values": [15,20,25,30,35,40,45,50], "labels": false, "ticks": false, "title": null}},
          "x2": {"field": "x1"},
          "y": {"field": "n", "type": "quantitative", "scale": {"domain": [-1.1, 23.1], "nice": false}, "axis": {"values": [0,5,10,15,20], "title": "C", "titleOpacity": 0, "titlePadding": 14, "minExtent": 12, "maxExtent": 12, "labelFontSize": 3.5}},
          "y2": {"datum": 0}
        }
      },
      {
        "spacing": 6,
        "hconcat": [
          {
            "width": 278, "height": 183,
            "resolve": {"axis": {"x": "independent", "y": "independent"}},
            "layer": [
              {"data": {"name": "pts_c"}, "mark": {"type": "circle", "size": 22, "color": "#4a4a4a", "opacity": 0.72},
               "encoding": {
                 "x": {"field": "x", "type": "quantitative", "scale": {"domain": [14.3, 51.8], "nice": false, "zero": false}, "axis": {"orient": "bottom", "values": [20,30,40,50], "format": "d", "title": "Alb(g/L)", "titlePadding": 10}},
                 "y": {"field": "y", "type": "quantitative", "scale": {"domain": [0.02, 0.505], "nice": false, "zero": false}, "axis": {"orient": "left", "values": [0.1,0.2,0.3,0.4,0.5], "format": ".1f", "title": "Crescent Rate(%)", "titlePadding": 14, "minExtent": 12, "maxExtent": 12}}
               }},
              {"data": {"name": "fit_c"}, "mark": {"type": "area", "color": "#999999", "opacity": 0.45},
               "encoding": {
                 "x": {"field": "x", "type": "quantitative", "axis": {"orient": "bottom", "values": [15,25,35,45], "labels": false, "ticks": false, "title": null, "gridColor": "#EFEFEF", "minExtent": 0, "maxExtent": 0}},
                 "y": {"field": "lo", "type": "quantitative", "axis": {"orient": "left", "values": [0.05,0.15,0.25,0.35,0.45], "labels": false, "ticks": false, "title": null, "gridColor": "#EFEFEF", "minExtent": 0, "maxExtent": 0}},
                 "y2": {"field": "hi"}}},
              {"data": {"name": "fit_c"}, "mark": {"type": "line", "color": "#3B4FA3", "strokeWidth": 2},
               "encoding": {"x": {"field": "x", "type": "quantitative", "axis": null}, "y": {"field": "fit", "type": "quantitative", "axis": null}}}
            ]
          },
          {
            "width": 29, "height": 183,
            "data": {"name": "yhist"},
            "mark": {"type": "rect", "fill": "#2E6DA4", "stroke": "#222222", "strokeWidth": 0.7},
            "encoding": {
              "y": {"field": "y0", "type": "quantitative", "scale": {"domain": [0.02, 0.505], "nice": false, "zero": false}, "axis": {"values": [0.05,0.1,0.15,0.2,0.25,0.3,0.35,0.4,0.45,0.5], "labels": false, "ticks": false, "title": null}},
              "y2": {"field": "y1"},
              "x": {"field": "n", "type": "quantitative", "scale": {"domain": [-0.65, 13.65], "nice": false}, "axis": {"values": [0,5,10], "title": null, "labelFontSize": 4.5}},
              "x2": {"datum": 0}
            }
          }
        ]
      }
    ]
  },
  {
    "title": {"text": "d", "orient": "left", "anchor": "end", "angle": 0, "align": "right", "baseline": "alphabetic", "dy": 18, "offset": -15, "font": "Liberation Serif", "fontSize": 27, "fontWeight": "bold", "color": "#111111"},
    "spacing": 3,
    "vconcat": [
      {
        "title": {"text": "Relationalship between Crescent Rate and 24-h UPE", "subtitle": "S = 6.93e+05, p = 8.81e−06, ρSpearman = 0.32, CI95% [0.18, 0.45]", "anchor": "start", "frame": "group", "dx": -27, "offset": 9, "font": "Liberation Sans", "fontSize": 13.2, "fontWeight": "bold", "color": "#111111", "subtitleFont": "Liberation Sans", "subtitleFontSize": 8.8, "subtitleColor": "#222222", "subtitlePadding": 6},
        "width": 278, "height": 19,
        "data": {"name": "hist_d"},
        "mark": {"type": "rect", "fill": "#D6BA50", "stroke": "#333333", "strokeWidth": 0.7},
        "encoding": {
          "x": {"field": "x0", "type": "quantitative", "scale": {"domain": [-0.6, 12.45], "nice": false, "zero": false}, "axis": {"values": [0,2,4,6,8,10,12], "labels": false, "ticks": false, "title": null}},
          "x2": {"field": "x1"},
          "y": {"field": "n", "type": "quantitative", "scale": {"domain": [-1.25, 26.25], "nice": false}, "axis": {"values": [0,5,10,15,20,25], "title": "C", "titleOpacity": 0, "titlePadding": 10, "minExtent": 12, "maxExtent": 12, "labelFontSize": 3.5}},
          "y2": {"datum": 0}
        }
      },
      {
        "spacing": 6,
        "hconcat": [
          {
            "width": 278, "height": 185,
            "resolve": {"axis": {"x": "independent", "y": "independent"}},
            "layer": [
              {"data": {"name": "pts_d"}, "mark": {"type": "circle", "size": 22, "color": "#4a4a4a", "opacity": 0.72},
               "encoding": {
                 "x": {"field": "x", "type": "quantitative", "scale": {"domain": [-0.6, 12.45], "nice": false, "zero": false}, "axis": {"orient": "bottom", "values": [0,4,8,12], "format": "d", "title": "24-h UPE(g/d)", "titlePadding": 10}},
                 "y": {"field": "y", "type": "quantitative", "scale": {"domain": [0.02, 0.505], "nice": false, "zero": false}, "axis": {"orient": "left", "values": [0.1,0.2,0.3,0.4,0.5], "format": ".1f", "title": "Crescent Rate(%)", "titlePadding": 10, "minExtent": 12, "maxExtent": 12}}
               }},
              {"data": {"name": "fit_d"}, "mark": {"type": "area", "color": "#999999", "opacity": 0.45},
               "encoding": {
                 "x": {"field": "x", "type": "quantitative", "axis": {"orient": "bottom", "values": [2,6,10], "labels": false, "ticks": false, "title": null, "gridColor": "#EFEFEF", "minExtent": 0, "maxExtent": 0}},
                 "y": {"field": "lo", "type": "quantitative", "axis": {"orient": "left", "values": [0.05,0.15,0.25,0.35,0.45], "labels": false, "ticks": false, "title": null, "gridColor": "#EFEFEF", "minExtent": 0, "maxExtent": 0}},
                 "y2": {"field": "hi"}}},
              {"data": {"name": "fit_d"}, "mark": {"type": "line", "color": "#3B4FA3", "strokeWidth": 2},
               "encoding": {"x": {"field": "x", "type": "quantitative", "axis": null}, "y": {"field": "fit", "type": "quantitative", "axis": null}}}
            ]
          },
          {
            "width": 29, "height": 185,
            "data": {"name": "yhist"},
            "mark": {"type": "rect", "fill": "#2E6DA4", "stroke": "#222222", "strokeWidth": 0.7},
            "encoding": {
              "y": {"field": "y0", "type": "quantitative", "scale": {"domain": [0.02, 0.505], "nice": false, "zero": false}, "axis": {"values": [0.05,0.1,0.15,0.2,0.25,0.3,0.35,0.4,0.45,0.5], "labels": false, "ticks": false, "title": null}},
              "y2": {"field": "y1"},
              "x": {"field": "n", "type": "quantitative", "scale": {"domain": [-0.65, 13.65], "nice": false}, "axis": {"values": [0,5,10], "title": null, "labelFontSize": 4.5}},
              "x2": {"datum": 0}
            }
          }
        ]
      }
    ]
  }
]
}
